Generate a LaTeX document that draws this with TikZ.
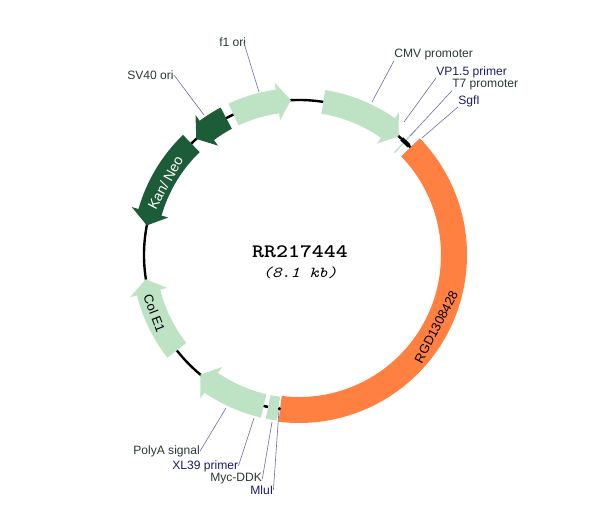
\documentclass[tikz,border=0pt]{standalone}
\usepackage{fontspec}
\setmainfont{Liberation Sans}
\newfontfamily\titlefont[Extension=.otf]{lmmonolt10-bold}
\newfontfamily\sizefont[Extension=.otf]{lmmono10-italic}
\definecolor{featlight}{RGB}{189,226,196}
\definecolor{featdark}{RGB}{29,92,56}
\definecolor{insertorange}{RGB}{255,128,64}
\definecolor{lbldark}{RGB}{40,58,50}
\definecolor{lblblue}{RGB}{28,28,105}
\definecolor{leadercol}{RGB}{120,112,160}
\tikzset{
  lbl/.style={inner sep=0pt, font=\fontsize{8.6}{10}\selectfont, text=lbldark},
  sitelbl/.style={lbl, text=lblblue},
  leader/.style={draw=leadercol, line width=0.45pt},
  lightfeat/.style={fill=featlight},
  darkfeat/.style={fill=featdark},
  bandtext/.style={inner sep=0pt, font=\fontsize{9.2}{10}\selectfont}
}
\begin{document}
\begin{tikzpicture}[x=0.025cm, y=0.025cm]
  \useasboundingbox (0,0) rectangle (600,512);

  % plasmid backbone and features, polar around the centre
  \begin{scope}[shift={(299,257)}]
  \draw[line width=1.7pt] (0,0) circle (155);
  \draw[featlight, line width=1pt] (47:140) -- (47:170);
  \draw[line width=3pt] (48.5:155) arc (48.5:44.8:155);
  % insert
  \fill[insertorange] (44:168) arc (44:-97:168) -- (-97:142) arc (-97:44:142) -- cycle;
  % clockwise arrows
  \fill[lightfeat] (115:167) arc (115:98:167) -- (98:174) -- (93:155) -- (98:136) -- (98:143) arc (98:115:143) -- cycle;
  \fill[lightfeat] (81:167) arc (81:55:167) -- (55:174) -- (50:155) -- (55:136) -- (55:143) arc (55:81:143) -- cycle;
  \fill[lightfeat] (218:167) arc (218:194:167) -- (194:174) -- (189:155) -- (194:136) -- (194:143) arc (194:218:143) -- cycle;
  \fill[lightfeat] (256.8:167) arc (256.8:235.5:167) -- (235.5:174) -- (230.5:155) -- (235.5:136) -- (235.5:143) arc (235.5:256.8:143) -- cycle;
  \fill[lightfeat] (258.5:167) arc (258.5:262.4:167) -- (262.4:143) arc (262.4:258.5:143) -- cycle;
  % counter-clockwise arrows
  \fill[darkfeat] (118:167) arc (118:126.5:167) -- (126.5:174) -- (131.5:155) -- (126.5:136) -- (126.5:143) arc (126.5:118:143) -- cycle;
  \fill[darkfeat] (134:167) arc (134:164:167) -- (164:174) -- (169:155) -- (164:136) -- (164:143) arc (164:134:143) -- cycle;
  % small sites
  \fill (257.7:155) circle (1.6);
  \fill (262.8:155) circle (1.6);

  \node[bandtext, font=\fontsize{10}{11}\selectfont, text=white, rotate=61.6] (kanneo) at (151.6:152) {Kan/ Neo};
  \node[bandtext, rotate=-69] (colei) at (202:156) {Col E1};
  \node[bandtext, rotate=62.3] (rgd) at (-27.7:155) {RGD1308428};

  \node[font=\titlefont\fontsize{13.5}{16}\selectfont, inner sep=0pt, xscale=1.2] (name) at (1,3) {RR217444};
  \node[font=\sizefont\fontsize{10.8}{13}\selectfont, inner sep=0pt, xscale=1.17] (size) at (1,-18) {(8.1 kb)};
  \end{scope}

  % leader ends on the map
  \coordinate (f1end) at (259,420);
  \coordinate (sv40end) at (204,397);
  \coordinate (cmvend) at (372,410);
  \coordinate (vpend) at (404,390);
  \coordinate (t7end) at (410,376);
  \coordinate (sgfend) at (422,374);
  \coordinate (polyaend) at (226,104);
  \coordinate (xlend) at (254,94);
  \coordinate (mycend) at (272,90);
  \coordinate (mluend) at (279,102);

  % labels
  \node[lbl, anchor=west] (f1lbl) at (219,470) {f1 ori};
  \node[lbl, anchor=west] (sv40lbl) at (127,437) {SV40 ori};
  \node[lbl, anchor=west] (cmvlbl) at (394,457) {CMV promoter};
  \node[sitelbl, anchor=west] (vplbl) at (436,440) {VP1.5 primer};
  \node[lbl, anchor=west] (t7lbl) at (452,427) {T7 promoter};
  \node[sitelbl, anchor=west] (sgflbl) at (458,411) {SgfI};
  \node[lbl, anchor=west] (polyalbl) at (133,61) {PolyA signal};
  \node[sitelbl, anchor=west] (xllbl) at (172,46) {XL39 primer};
  \node[lbl, anchor=west] (myclbl) at (210,33) {Myc-DDK};
  \node[sitelbl, anchor=west] (mlulbl) at (250,22) {MluI};

  \draw[leader] ([xshift=-2]f1lbl.east) -- (f1end);
  \draw[leader] (sv40lbl.east) -- (sv40end);
  \draw[leader] (cmvlbl.south west) -- (cmvend);
  \draw[leader] (vplbl.south west) -- (vpend);
  \draw[leader] (t7lbl.south west) -- (t7end);
  \draw[leader] (sgflbl.south west) -- (sgfend);
  \draw[leader] (polyalbl.east) -- (polyaend);
  \draw[leader] (xllbl.east) -- (xlend);
  \draw[leader] (myclbl.east) -- (mycend);
  \draw[leader] (mlulbl.east) -- (mluend);

\end{tikzpicture}
\end{document}
